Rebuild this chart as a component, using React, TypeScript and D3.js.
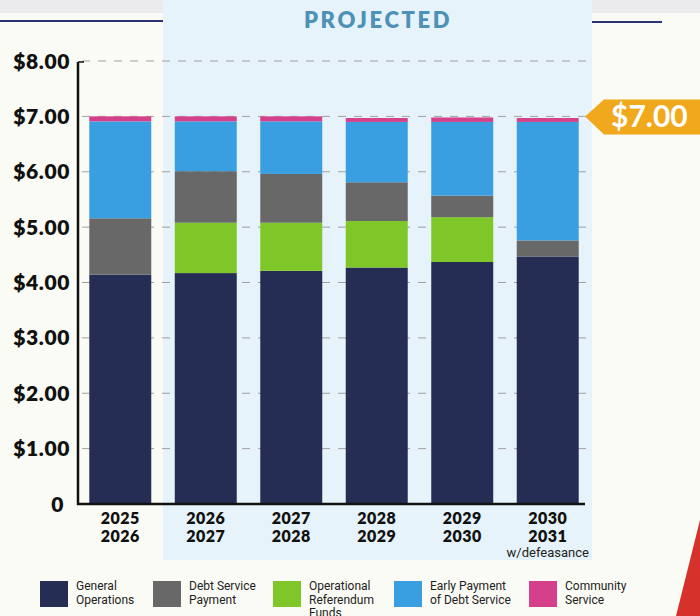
import React from "react";
import * as d3 from "d3";

const years = ["2025\n2026", "2026\n2027", "2027\n2028", "2028\n2029", "2029\n2030", "2030\n2031"];
const generalOps = [4.14, 4.17, 4.21, 4.27, 4.37, 4.47];
const debtService = [1.02, 0.93, 0.88, 0.7, 0.39, 0.29];
const opReferendum = [0, 0.91, 0.87, 0.84, 0.81, 0];
const earlyPayment = [1.75, 0.9, 0.95, 1.09, 1.33, 2.14];
const communityService = [0.09, 0.09, 0.09, 0.07, 0.08, 0.07];
const yTicks = [0, 1, 2, 3, 4, 5, 6, 7, 8];

// legend order
const seriesKeys = ["general", "debt", "referendum", "early", "community"];
const seriesLabels = [
  ["General", "Operations"],
  ["Debt Service", "Payment"],
  ["Operational", "Referendum", "Funds"],
  ["Early Payment", "of Debt Service"],
  ["Community", "Service"],
];
const colors = ["#262d55", "#686868", "#7fc629", "#3a9fe0", "#d5408b"];
// stacking order bottom to top (green sits right on top of navy)
const stackKeys = ["general", "referendum", "debt", "early", "community"];

const W = 700;
const H = 616;

export default function App() {
  const rows = years.map((yr, i) => ({
    year: yr,
    general: generalOps[i],
    debt: debtService[i],
    referendum: opReferendum[i],
    early: earlyPayment[i],
    community: communityService[i],
  }));
  const stacked = d3.stack<any>().keys(stackKeys)(rows);
  const colorOf = (k: string) => colors[seriesKeys.indexOf(k)];

  const x = d3
    .scaleBand()
    .domain(years)
    .range([78, 590])
    .paddingInner(0.275)
    .paddingOuter(0.132);
  const y = d3.scaleLinear().domain([0, 8]).range([504, 61]);

  const legendX = [40, 153, 273, 394, 529];
  const labelFont = "Lato, 'DejaVu Sans', sans-serif";
  const narrowFont = "'Liberation Sans Narrow', 'Roboto', sans-serif";

  return (
    <svg
      width={W}
      height={H}
      style={{ position: "absolute", left: 0, top: 0 }}
      xmlns="http://www.w3.org/2000/svg"
    >
      {/* page background */}
      <rect x={0} y={0} width={W} height={H} fill="#fbfbf5" />
      <rect x={0} y={0} width={W} height={13} fill="#ebebee" />
      {/* projected panel */}
      <rect x={163} y={0} width={429} height={560} fill="#e7f3fa" />
      <line x1={0} x2={163} y1={21} y2={21} stroke="#2b3370" strokeWidth={2} />
      <line x1={592} x2={662} y1={22} y2={22} stroke="#2b3370" strokeWidth={2} />
      <text
        x={378}
        y={28}
        textAnchor="middle"
        fontFamily={labelFont}
        fontWeight={800}
        fontSize={22}
        letterSpacing={2.6}
        fill="#4d92b6"
      >
        PROJECTED
      </text>

      {/* gridlines */}
      {yTicks
        .filter((t) => t > 0)
        .map((t) => (
          <line
            key={t}
            x1={82}
            x2={590}
            y1={y(t)}
            y2={y(t)}
            stroke="#a0a0a0"
            strokeWidth={1}
            strokeDasharray="8,8"
          />
        ))}

      {/* bars */}
      {stacked.map((s) => (
        <g key={s.key} fill={colorOf(s.key)}>
          {s.map((d, i) =>
            d[1] - d[0] > 0 ? (
              <rect
                key={i}
                x={x(years[i])}
                y={y(d[1])}
                width={x.bandwidth()}
                height={y(d[0]) - y(d[1])}
              />
            ) : null
          )}
        </g>
      ))}

      {/* axes */}
      <line x1={78} x2={78} y1={62} y2={505} stroke="#111" strokeWidth={2.5} />
      <line x1={77} x2={585} y1={504} y2={504} stroke="#111" strokeWidth={2.5} />
      <line x1={78} x2={84} y1={62} y2={62} stroke="#111" strokeWidth={1.5} />

      {yTicks.map((t) => (
        <text
          key={t}
          x={t === 0 ? 64 : 70}
          y={y(t)}
          dy="0.36em"
          textAnchor="end"
          fontFamily={labelFont}
          fontWeight={800}
          fontSize={21}
          letterSpacing={0.6}
          fill="#111"
        >
          {t === 0 ? "0" : d3.format("$.2f")(t)}
        </text>
      ))}

      {years.map((yr) => {
        const cx = (x(yr) as number) + x.bandwidth() / 2;
        return (
          <text
            key={yr}
            x={cx}
            textAnchor="middle"
            fontFamily={labelFont}
            fontWeight={800}
            fontSize={16}
            letterSpacing={0.5}
            fill="#111"
          >
            {yr.split("\n").map((ln, k) => (
              <tspan key={k} x={cx} y={524 + k * 18}>
                {ln}
              </tspan>
            ))}
          </text>
        );
      })}
      <text
        x={(x(years[5]) as number) + x.bandwidth() / 2}
        y={557}
        textAnchor="middle"
        fontFamily={narrowFont}
        fontSize={13}
        fill="#222"
      >
        w/defeasance
      </text>

      {/* $7.00 callout */}
      <path
        d={`M585,${y(7)} L604,${y(7) - 17} L700,${y(7) - 17} L700,${y(7) + 18} L604,${y(7) + 18} Z`}
        fill="#f0a81c"
      />
      <text
        x={611}
        y={y(7)}
        dy="0.36em"
        fontFamily={labelFont}
        fontWeight={700}
        fontSize={30}
        fill="#ffffff"
      >
        $7.00
      </text>

      {/* legend */}
      {seriesLabels.map((lines, i) => (
        <g key={i}>
          <rect x={legendX[i]} y={581} width={28} height={26} fill={colors[i]} />
          <text fontFamily={narrowFont} fontSize={12} fill="#222">
            {lines.map((ln, k) => (
              <tspan key={k} x={legendX[i] + 36} y={590 + k * 13.5}>
                {ln}
              </tspan>
            ))}
          </text>
        </g>
      ))}

      {/* decorative red stroke */}
      <path d="M700,520 L700,616 L676,616 Z" fill="#d6322b" />
    </svg>
  );
}
